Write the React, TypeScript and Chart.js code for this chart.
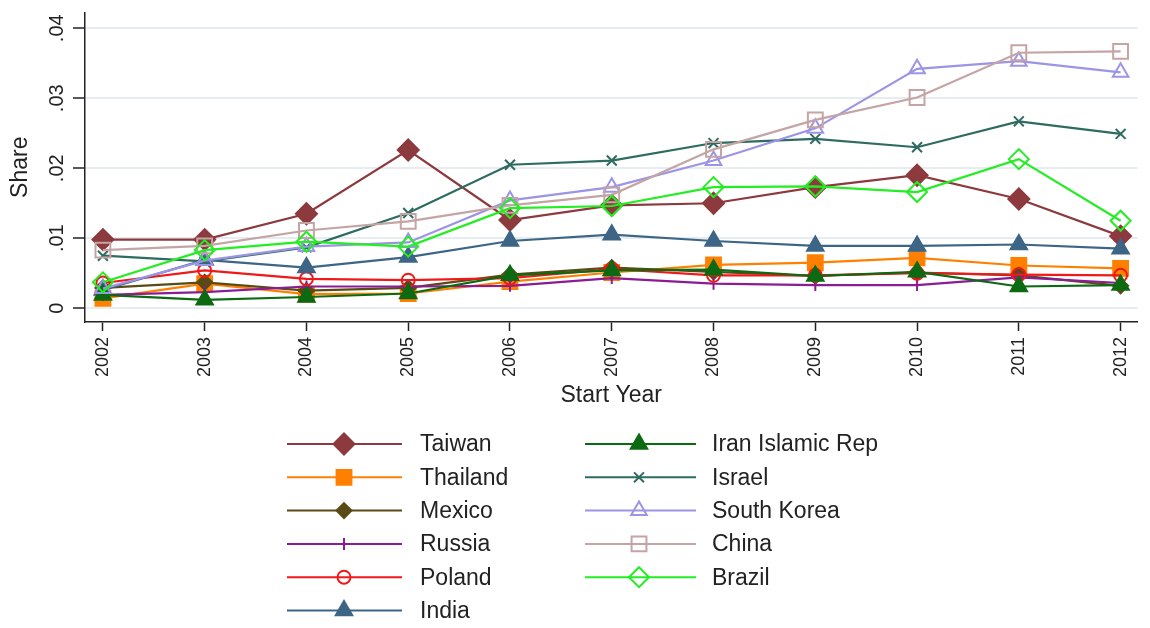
import React, { useEffect, useRef } from 'react';
import { Chart, registerables } from 'chart.js';

Chart.register(...registerables);

const FONT = '"Liberation Sans", Arial, sans-serif';
const TEXT = '#222222';

// Start years on the x axis
const years = [2002, 2003, 2004, 2005, 2006, 2007, 2008, 2009, 2010, 2011, 2012];

// y axis ticks
const yTickValues = [0, 0.01, 0.02, 0.03, 0.04];
const yTickLabels = ['0', '.01', '.02', '.03', '.04'];

// Share by country and start year
const taiwan = [0.0098, 0.0098, 0.0135, 0.0226, 0.0126, 0.0147, 0.015, 0.0173, 0.019, 0.0156, 0.0103];
const thailand = [0.0014, 0.0035, 0.002, 0.0021, 0.0038, 0.0051, 0.0062, 0.0065, 0.0072, 0.0061, 0.0057];
const mexico = [0.0029, 0.0037, 0.0025, 0.0029, 0.0048, 0.0058, 0.0052, 0.0046, 0.0051, 0.0047, 0.0032];
const russia = [0.0019, 0.0023, 0.0031, 0.0031, 0.0032, 0.0043, 0.0035, 0.0033, 0.0033, 0.0044, 0.0036];
const poland = [0.0036, 0.0054, 0.0042, 0.004, 0.0043, 0.0056, 0.0047, 0.0047, 0.005, 0.0048, 0.0047];
const india = [0.0026, 0.0069, 0.0058, 0.0073, 0.0096, 0.0105, 0.0096, 0.0089, 0.0089, 0.0091, 0.0085];
const iran = [0.0019, 0.0012, 0.0016, 0.0021, 0.0047, 0.0054, 0.0055, 0.0046, 0.0052, 0.0031, 0.0033];
const israel = [0.0075, 0.0067, 0.0087, 0.0136, 0.0205, 0.0211, 0.0236, 0.0242, 0.023, 0.0267, 0.0249];
const southKorea = [0.0028, 0.0068, 0.0088, 0.0094, 0.0154, 0.0173, 0.0211, 0.0257, 0.0342, 0.0353, 0.0337];
const china = [0.0083, 0.0089, 0.0111, 0.0124, 0.0147, 0.0162, 0.0227, 0.0269, 0.0301, 0.0365, 0.0367];
const brazil = [0.0037, 0.0083, 0.0095, 0.0088, 0.0143, 0.0146, 0.0173, 0.0174, 0.0166, 0.0213, 0.0125];

type Marker = 'rectRot' | 'rect' | 'circle' | 'triangle' | 'line' | 'crossRot';

interface Series {
  label: string;
  values: number[];
  color: string;
  marker: Marker;
  radius: number;
  filled: boolean;
}

const series: Series[] = [
  { label: 'Taiwan', values: taiwan, color: '#8C3A3E', marker: 'rectRot', radius: 10.5, filled: true },
  { label: 'Thailand', values: thailand, color: '#FF8000', marker: 'rect', radius: 10.5, filled: true },
  { label: 'Mexico', values: mexico, color: '#5A4A16', marker: 'rectRot', radius: 7.5, filled: true },
  { label: 'Russia', values: russia, color: '#8A1C96', marker: 'line', radius: 6, filled: false },
  { label: 'Poland', values: poland, color: '#F01818', marker: 'circle', radius: 6.5, filled: false },
  { label: 'India', values: india, color: '#3D6586', marker: 'triangle', radius: 9.5, filled: true },
  { label: 'Iran Islamic Rep', values: iran, color: '#0C6A12', marker: 'triangle', radius: 9.5, filled: true },
  { label: 'Israel', values: israel, color: '#2E6B60', marker: 'crossRot', radius: 7, filled: false },
  { label: 'South Korea', values: southKorea, color: '#9C94E4', marker: 'triangle', radius: 9, filled: false },
  { label: 'China', values: china, color: '#C4A4A4', marker: 'rect', radius: 10.5, filled: false },
  { label: 'Brazil', values: brazil, color: '#22EE22', marker: 'rectRot', radius: 10, filled: false },
];

function drawMarker(ctx: CanvasRenderingContext2D, s: Series, x: number, y: number) {
  const r = s.radius;
  ctx.save();
  ctx.lineWidth = 2;
  ctx.strokeStyle = s.color;
  ctx.fillStyle = s.color;
  ctx.beginPath();
  let fillable = true;
  switch (s.marker) {
    case 'rectRot':
      ctx.moveTo(x, y - r);
      ctx.lineTo(x + r, y);
      ctx.lineTo(x, y + r);
      ctx.lineTo(x - r, y);
      ctx.closePath();
      break;
    case 'rect': {
      const h = r * Math.SQRT1_2;
      ctx.rect(x - h, y - h, 2 * h, 2 * h);
      break;
    }
    case 'circle':
      ctx.arc(x, y, r, 0, Math.PI * 2);
      break;
    case 'triangle': {
      let a = 0;
      ctx.moveTo(x + Math.sin(a) * r, y - Math.cos(a) * r);
      a += (Math.PI * 2) / 3;
      ctx.lineTo(x + Math.sin(a) * r, y - Math.cos(a) * r);
      a += (Math.PI * 2) / 3;
      ctx.lineTo(x + Math.sin(a) * r, y - Math.cos(a) * r);
      ctx.closePath();
      break;
    }
    case 'line':
      ctx.moveTo(x, y - r);
      ctx.lineTo(x, y + r);
      fillable = false;
      break;
    case 'crossRot': {
      const o = r * Math.SQRT1_2;
      ctx.moveTo(x - o, y - o);
      ctx.lineTo(x + o, y + o);
      ctx.moveTo(x - o, y + o);
      ctx.lineTo(x + o, y - o);
      fillable = false;
      break;
    }
  }
  if (fillable && s.filled) ctx.fill();
  ctx.stroke();
  ctx.restore();
}

// Rotated y tick labels, placed from the y scale
const yTickLabelPlugin = {
  id: 'yTickLabels',
  afterDraw(chart: Chart) {
    const scale = chart.scales.y;
    const ctx = chart.ctx;
    ctx.save();
    ctx.font = `20px ${FONT}`;
    ctx.fillStyle = TEXT;
    ctx.textAlign = 'center';
    ctx.textBaseline = 'alphabetic';
    yTickValues.forEach((v, i) => {
      const py = scale.getPixelForValue(v);
      ctx.save();
      ctx.translate(scale.right - 22, py);
      ctx.rotate(-Math.PI / 2);
      ctx.fillText(yTickLabels[i], 0, 0);
      ctx.restore();
    });
    ctx.restore();
  },
};

// Two-column legend below the plot
const legendPlugin = {
  id: 'twoColumnLegend',
  afterDraw(chart: Chart) {
    const ctx = chart.ctx;
    const columns = [
      { lineX0: 287, lineX1: 402, markX: 344, textX: 420, start: 0, count: 6 },
      { lineX0: 585, lineX1: 696, markX: 639, textX: 712, start: 6, count: 5 },
    ];
    const rowY0 = 444;
    const rowStep = 33.3;
    ctx.save();
    ctx.font = `23px ${FONT}`;
    ctx.textBaseline = 'middle';
    ctx.textAlign = 'left';
    columns.forEach((col) => {
      for (let k = 0; k < col.count; k++) {
        const s = series[col.start + k];
        const y = rowY0 + k * rowStep;
        ctx.strokeStyle = s.color;
        ctx.lineWidth = 2;
        ctx.beginPath();
        ctx.moveTo(col.lineX0, y);
        ctx.lineTo(col.lineX1, y);
        ctx.stroke();
        drawMarker(ctx, s, col.markX, y);
        ctx.fillStyle = TEXT;
        ctx.fillText(s.label, col.textX, y + 1);
      }
    });
    ctx.restore();
  },
};

export default function App() {
  const canvasRef = useRef<HTMLCanvasElement | null>(null);

  useEffect(() => {
    const canvas = canvasRef.current;
    if (!canvas) return;
    Chart.defaults.font.family = FONT;
    Chart.defaults.color = TEXT;

    const n = series.length;
    const datasets = series.map((s, idx) => ({
      label: s.label,
      data: years.map((yr, i) => ({ x: yr, y: s.values[i] })),
      borderColor: s.color,
      backgroundColor: s.filled ? s.color : 'rgba(0,0,0,0)',
      borderWidth: 2.2,
      pointStyle: s.marker,
      pointRadius: s.radius,
      pointRotation: s.marker === 'line' ? 90 : 0,
      pointBorderWidth: 2,
      pointBorderColor: s.color,
      pointBackgroundColor: s.filled ? s.color : 'rgba(0,0,0,0)',
      tension: 0,
      order: n - idx,
    }));

    const chart = new Chart(canvas, {
      type: 'line',
      data: { datasets },
      options: {
        animation: false,
        responsive: false,
        maintainAspectRatio: false,
        layout: { padding: { top: 7, right: 7, left: 0, bottom: 219 } },
        plugins: {
          legend: { display: false },
          tooltip: { enabled: false },
        },
        scales: {
          x: {
            type: 'linear',
            min: 2001.824,
            max: 2012.166,
            afterBuildTicks: (scale: any) => {
              scale.ticks = years.map((v) => ({ value: v }));
            },
            afterFit: (scale: any) => {
              scale.height = 87;
            },
            ticks: {
              minRotation: 90,
              maxRotation: 90,
              autoSkip: false,
              padding: 6,
              color: TEXT,
              font: { size: 18, family: FONT },
              callback: (v: any) => String(v),
            },
            grid: {
              drawOnChartArea: false,
              drawTicks: true,
              tickLength: 9,
              tickColor: TEXT,
              tickWidth: 1.5,
            },
            border: { display: true, color: TEXT, width: 1.5 },
            title: {
              display: true,
              text: 'Start Year',
              color: TEXT,
              font: { size: 23, family: FONT },
              padding: { top: 0, bottom: 0 },
            },
          },
          y: {
            type: 'linear',
            min: -0.00197,
            max: 0.04225,
            afterBuildTicks: (scale: any) => {
              scale.ticks = yTickValues.map((v) => ({ value: v }));
            },
            afterFit: (scale: any) => {
              scale.width = 85;
            },
            ticks: { display: false },
            grid: {
              color: '#E6ECEF',
              lineWidth: 2,
              drawTicks: true,
              tickLength: 12,
              tickColor: TEXT,
              tickWidth: 1.5,
            },
            border: { display: true, color: TEXT, width: 1.5 },
            title: {
              display: true,
              text: 'Share',
              color: TEXT,
              font: { size: 23, family: FONT },
              padding: { top: 7, bottom: 0 },
            },
          },
        },
      },
      plugins: [yTickLabelPlugin, legendPlugin],
    });

    return () => {
      chart.destroy();
    };
  }, []);

  return (
    <div style={{ position: 'absolute', left: 0, top: 0, width: 1150, height: 628, background: '#ffffff' }}>
      <canvas ref={canvasRef} width={1150} height={628} style={{ display: 'block' }} />
    </div>
  );
}
